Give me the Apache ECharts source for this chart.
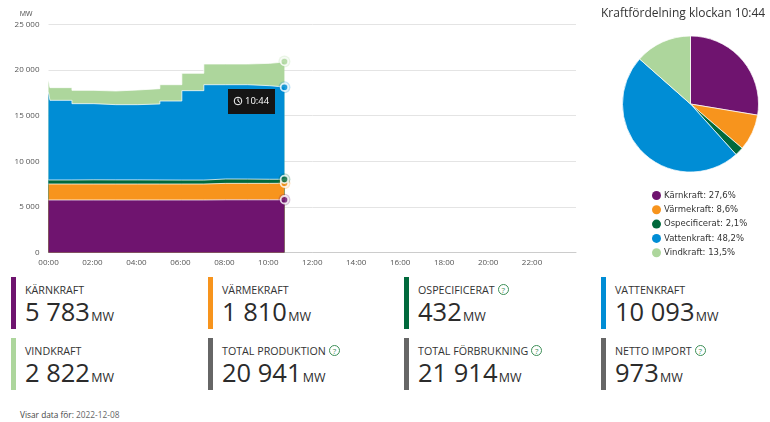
<!DOCTYPE html>
<html>
<head>
<meta charset="utf-8">
<script src="https://cdn.jsdelivr.net/npm/echarts@6/dist/echarts.min.js"></script>
<style>
html, body { margin: 0; padding: 0; background: #fff; }
body { width: 770px; height: 422px; position: relative; overflow: hidden; font-family: "Open Sans", sans-serif; color: #333; }
#main { position: absolute; left: 0; top: 0; width: 770px; height: 270px; }
.card { position: absolute; width: 190px; height: 52px; border-left: 5px solid #666; box-sizing: border-box; white-space: nowrap; }
.card .lbl { position: absolute; left: 9px; top: 5px; font-size: 10.7px; line-height: 16px; color: #333; }
.card .val { position: absolute; left: 9px; top: 17px; font-size: 25.5px; line-height: 34px; color: #2b2b2b; }
.card .unit { font-size: 12.5px; margin-left: -2px; }
.help { display: inline-block; width: 9px; height: 9px; line-height: 9px; border: 1px solid #3d8f57; border-radius: 50%; color: #3d8f57; font-size: 8px; text-align: center; margin-left: 3px; vertical-align: 1px; }
#foot { position: absolute; left: 20px; top: 408px; font-size: 8.3px; line-height: 13px; color: #444; }
#foot span { color: #666; }
</style>
</head>
<body>
<div id="main"></div>
<div id="cards"></div>
<div id="foot">Visar data för: <span>2022-12-08</span></div>
<script>
// minuter efter midnatt
var times = [0, 4, 64, 124, 184, 244, 304, 364, 424, 484, 544, 604, 644];
var karnkraft = [5760, 5760, 5760, 5760, 5760, 5760, 5760, 5760, 5780, 5780, 5780, 5780, 5783];
var varmekraft = [1750, 1750, 1750, 1750, 1750, 1750, 1750, 1750, 1800, 1800, 1800, 1810, 1810];
var ospecificerat = [440, 440, 460, 450, 450, 440, 430, 430, 480, 470, 450, 440, 432];
var vattenkraft = [9610, 8735, 8350, 8250, 8250, 8335, 8670, 9805, 10340, 10350, 10260, 10120, 10093];
var vindkraft = [1355, 1390, 1460, 1500, 1610, 1680, 1790, 1905, 2270, 2270, 2450, 2740, 2822];

var names = ['Kärnkraft', 'Värmekraft', 'Ospecificerat', 'Vattenkraft', 'Vindkraft'];
var colors = ['#6f146f', '#f7941d', '#00693c', '#008dd5', '#add69c'];
var rows = [karnkraft, varmekraft, ospecificerat, vattenkraft, vindkraft];

var yTicks = ['0', '5 000', '10 000', '15 000', '20 000', '25 000'];
var xTicks = ['00:00', '02:00', '04:00', '06:00', '08:00', '10:00', '12:00', '14:00', '16:00', '18:00', '20:00', '22:00', ''];

var kpiNames = ['KÄRNKRAFT', 'VÄRMEKRAFT', 'OSPECIFICERAT', 'VATTENKRAFT', 'VINDKRAFT', 'TOTAL PRODUKTION', 'TOTAL FÖRBRUKNING', 'NETTO IMPORT'];
var kpiValues = ['5 783', '1 810', '432', '10 093', '2 822', '20 941', '21 914', '973'];
var kpiHelp = [false, false, true, false, false, true, true, true];
var kpiColors = ['#6f146f', '#f7941d', '#00693c', '#008dd5', '#add69c', '#666', '#666', '#666'];
var cardX = [11, 208, 404, 601];

var html = '';
kpiNames.forEach(function (n, i) {
    html += '<div class="card" style="left:' + cardX[i % 4] + 'px;top:' + (i < 4 ? 277 : 338) + 'px;border-left-color:' + kpiColors[i] + '">'
        + '<div class="lbl">' + n + (kpiHelp[i] ? '<span class="help">?</span>' : '') + '</div>'
        + '<div class="val">' + kpiValues[i] + '<span class="unit"> MW</span></div></div>';
});
document.getElementById('cards').innerHTML = html;

var myChart = echarts.init(document.getElementById('main'));
var last = times.length - 1;
var series = [];
var total = 0;
rows.forEach(function (r) { total += r[last]; });

// stack fungerar inte med två value-axlar, så summera själv
var running = times.map(function () { return 0; });
rows.forEach(function (r, i) {
    running = running.map(function (s, k) { return s + r[k]; });
    series.push({
        name: names[i],
        type: 'line',
        step: 'end',
        symbol: 'none',
        silent: true,
        data: running.map(function (v, k) { return [times[k], v]; }),
        lineStyle: { color: '#fff', width: 1, opacity: 0.75 },
        itemStyle: { color: colors[i] },
        areaStyle: { color: colors[i], opacity: 1 },
        z: 4 - i
    });
    series.push({
        type: 'scatter', silent: true, symbolSize: 12, z: 5,
        itemStyle: { color: colors[i], opacity: 0.25 },
        data: [[times[last], running[last]]]
    });
    series.push({
        type: 'scatter', silent: true, symbolSize: 7.5, z: 6,
        itemStyle: { color: colors[i], borderColor: '#fff', borderWidth: 1.8 },
        data: [[times[last], running[last]]]
    });
});
series.push({
    type: 'pie',
    center: [690.5, 104],
    radius: [0, 68],
    startAngle: 90,
    silent: true,
    label: { show: false },
    labelLine: { show: false },
    itemStyle: { borderColor: '#fff', borderWidth: 0.7 },
    data: names.map(function (n, i) {
        return { name: n, value: rows[i][last], itemStyle: { color: colors[i] } };
    })
});

var option = {
    animation: false,
    title: {
        text: 'Kraftfördelning klockan 10:44',
        left: 596, top: 3,
        textStyle: { fontFamily: 'Open Sans', fontSize: 12, fontWeight: 'normal', color: '#333' }
    },
    legend: {
        orient: 'vertical',
        left: 647, top: 186,
        icon: 'circle',
        itemWidth: 9, itemHeight: 9, itemGap: 5.3,
        data: names,
        selectedMode: false,
        formatter: function (n) {
            var v = rows[names.indexOf(n)][last];
            return n + ': ' + (v / total * 100).toFixed(1).replace('.', ',') + '%';
        },
        textStyle: { fontFamily: 'DejaVu Sans', fontSize: 8.5, color: '#333', padding: [0, 0, 0, -2] }
    },
    grid: { left: 48.5, top: 24.5, right: 194, height: 228 },
    xAxis: {
        type: 'value', min: 0, max: 1440, interval: 120,
        splitLine: { show: false },
        axisLine: { lineStyle: { color: '#ccc' } },
        axisTick: { show: false },
        axisLabel: {
            fontFamily: 'Open Sans', fontSize: 8, color: '#555', margin: 6, showMaxLabel: false,
            formatter: function (v) { return xTicks[v / 120]; }
        }
    },
    yAxis: {
        type: 'value', min: 0, max: 25000, interval: 5000,
        name: 'MW', nameGap: 7,
        nameTextStyle: { fontFamily: 'Open Sans', fontSize: 7, color: '#444', align: 'right', padding: [0, 16, 0, 0] },
        axisLine: { show: false },
        axisTick: { show: false },
        splitLine: { lineStyle: { color: '#e4e4e4' } },
        axisLabel: {
            fontFamily: 'Open Sans', fontSize: 8, color: '#555', margin: 9,
            formatter: function (v) { return yTicks[v / 5000]; }
        }
    },
    graphic: [
        { type: 'rect', shape: { x: 228, y: 89, width: 47, height: 25 }, style: { fill: '#151515' }, z: 20 },
        { type: 'circle', shape: { cx: 238, cy: 101, r: 3.8 }, style: { fill: 'none', stroke: '#fff', lineWidth: 1 }, z: 21 },
        { type: 'polyline', shape: { points: [[238, 98.5], [238, 101], [240, 102.5]] }, style: { fill: 'none', stroke: '#fff', lineWidth: 1 }, z: 21 },
        { type: 'text', x: 245, y: 101, style: { text: '10:44', fill: '#fff', font: '9.5px "Open Sans"', verticalAlign: 'middle' }, z: 21 }
    ],
    series: series
};
myChart.setOption(option);
</script>
</body>
</html>
